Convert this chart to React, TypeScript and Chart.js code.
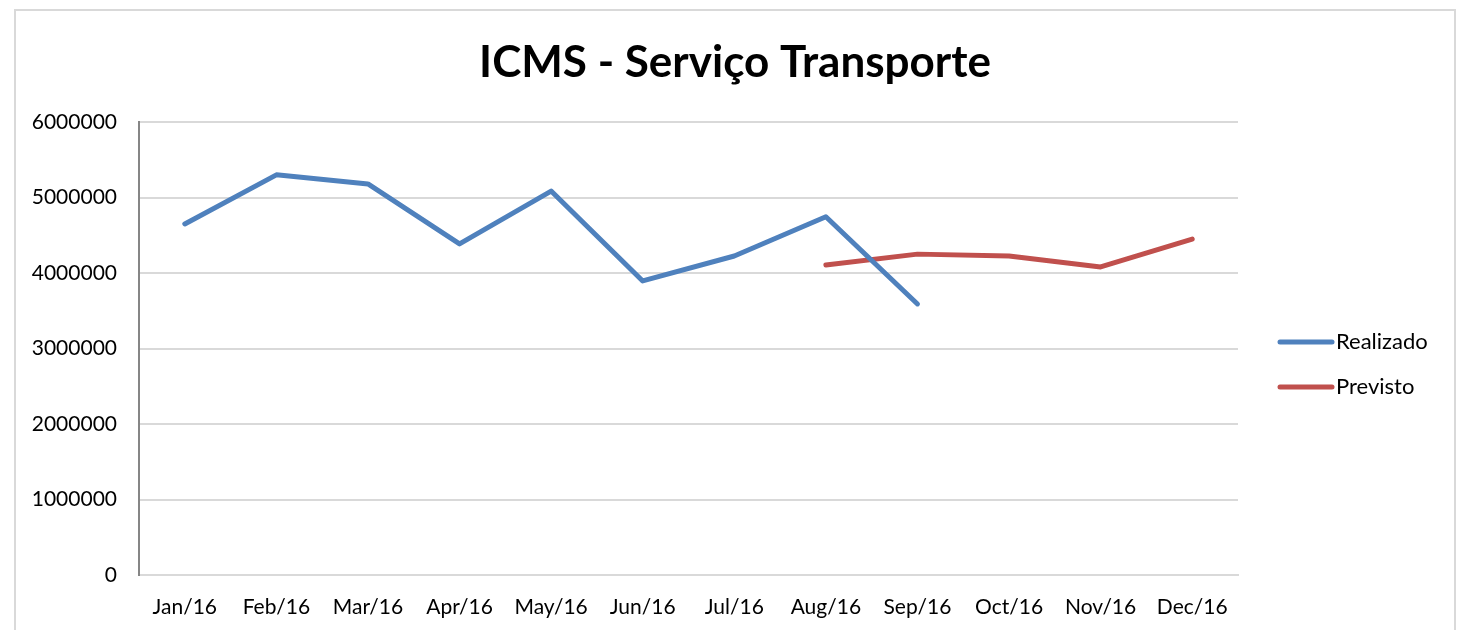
import React, { useEffect, useRef } from "react";
import { Chart, registerables } from "chart.js";

Chart.register(...registerables);

const categories = ["Jan/16", "Feb/16", "Mar/16", "Apr/16", "May/16", "Jun/16", "Jul/16", "Aug/16", "Sep/16", "Oct/16", "Nov/16", "Dec/16"];
const realizado: (number | null)[] = [4650000, 5300000, 5180000, 4385000, 5085000, 3895000, 4225000, 4745000, 3590000, null, null, null];
const previsto: (number | null)[] = [null, null, null, null, null, null, null, 4105000, 4250000, 4225000, 4080000, 4450000];
const yTicks = [0, 1000000, 2000000, 3000000, 4000000, 5000000, 6000000];
const titleText = "ICMS - Serviço Transporte";

const FONT = "Lato, 'Open Sans', sans-serif";

const decorPlugin = {
  id: "decor",
  beforeDraw(chart: any) {
    const ctx = chart.ctx;
    ctx.save();
    ctx.fillStyle = "#ffffff";
    ctx.fillRect(0, 0, chart.width, chart.height);
    ctx.strokeStyle = "#d9d9d9";
    ctx.lineWidth = 2;
    ctx.strokeRect(15, 10, 1440, 640);
    ctx.restore();
  },
  afterDraw(chart: any) {
    const ctx = chart.ctx;
    ctx.save();
    // title
    ctx.fillStyle = "#000000";
    ctx.font = `bold 44px ${FONT}`;
    ctx.textAlign = "center";
    ctx.textBaseline = "alphabetic";
    ctx.fillText(titleText, 735, 77);
    // legend
    const items = chart.data.datasets;
    ctx.font = `22px ${FONT}`;
    ctx.textAlign = "left";
    ctx.textBaseline = "middle";
    items.forEach((ds: any, i: number) => {
      const y = 342 + i * 45;
      ctx.strokeStyle = ds.borderColor;
      ctx.lineWidth = 5;
      ctx.lineCap = "round";
      ctx.beginPath();
      ctx.moveTo(1280, y);
      ctx.lineTo(1332, y);
      ctx.stroke();
      ctx.fillStyle = "#000000";
      ctx.fillText(ds.label, 1336, y);
    });
    ctx.restore();
  },
};

export default function App() {
  const ref = useRef<HTMLCanvasElement | null>(null);
  useEffect(() => {
    if (!ref.current) return;
    const chart = new Chart(ref.current, {
      type: "line",
      data: {
        labels: categories,
        datasets: [
          {
            label: "Realizado",
            data: realizado,
            borderColor: "#4f81bd",
            backgroundColor: "#4f81bd",
            borderWidth: 5,
            borderCapStyle: "round",
            borderJoinStyle: "round",
            pointRadius: 0,
            tension: 0,
            spanGaps: false,
          },
          {
            label: "Previsto",
            data: previsto,
            borderColor: "#c0504d",
            backgroundColor: "#c0504d",
            borderWidth: 5,
            borderCapStyle: "round",
            borderJoinStyle: "round",
            pointRadius: 0,
            tension: 0,
            spanGaps: false,
          },
        ],
      },
      options: {
        animation: false,
        responsive: false,
        maintainAspectRatio: false,
        layout: { padding: { left: 0, top: 122, right: 223, bottom: 0 } },
        plugins: {
          legend: { display: false },
          title: { display: false },
          tooltip: { enabled: false },
        },
        scales: {
          x: {
            offset: true,
            grid: { display: false, drawTicks: false },
            border: { display: true, color: "#d9d9d9", width: 2 },
            ticks: { color: "#000000", font: { family: FONT, size: 21 }, padding: 20, maxRotation: 0, autoSkip: false },
            afterFit(scale: any) {
              scale.height = 55;
            },
          },
          y: {
            min: 0,
            max: 6000000,
            afterBuildTicks(scale: any) {
              scale.ticks = yTicks.map((v) => ({ value: v }));
            },
            grid: { color: "#d9d9d9", lineWidth: 2, drawTicks: false },
            border: { display: true, color: "#868686", width: 2 },
            ticks: {
              color: "#000000",
              font: { family: FONT, size: 21 },
              padding: 22,
              callback: (v: any) => String(v),
            },
            afterFit(scale: any) {
              scale.width = 139;
            },
          },
        },
      },
      plugins: [decorPlugin],
    });
    return () => chart.destroy();
  }, []);
  return (
    <div style={{ position: "fixed", left: 0, top: 0, width: 1461, height: 630, background: "#fff" }}>
      <canvas ref={ref} width={1461} height={630} style={{ width: 1461, height: 630 }} />
    </div>
  );
}
